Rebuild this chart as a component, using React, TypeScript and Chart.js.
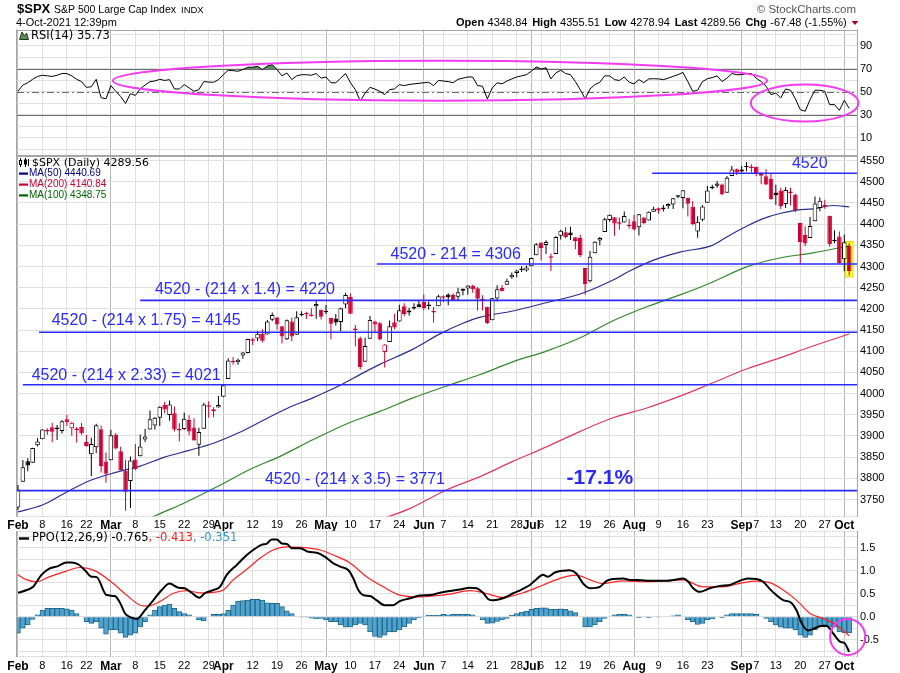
import React, { useEffect, useRef } from 'react';
import { Chart, registerables } from 'chart.js';

Chart.register(...registerables);

const SANS = "'Liberation Sans', Arial, Helvetica, sans-serif";
const VERD = "'DejaVu Sans', Verdana, sans-serif";

// ---------------- data ----------------
// trading-day index 0 = 1 Feb 2021 ... 170 = 4 Oct 2021
const tickDays = [0, 5, 10, 14, 19, 24, 29, 34, 39, 42, 48, 53, 58, 63, 68, 73, 78, 83, 87, 92, 97, 102, 105, 107, 111, 116, 121, 126, 131, 136, 141, 148, 151, 155, 160, 165, 169];
const tickLabels = ['Feb', '8', '16', '22', 'Mar', '8', '15', '22', '29', 'Apr', '12', '19', '26', 'May', '10', '17', '24', 'Jun', '7', '14', '21', '28', 'Jul', '6', '12', '19', '26', 'Aug', '9', '16', '23', 'Sep', '7', '13', '20', '27', 'Oct'];
const monthDays = [0, 19, 42, 63, 83, 105, 126, 148, 169];

const openP = [3731.17,3791.84,3840.27,3836.66,3878.30,3892.59,3910.49,3920.78,3916.40,3911.65,
3939.61,3918.50,3915.86,3921.16,3885.55,3857.07,3873.71,3915.80,3839.66,3842.51,
3903.64,3863.99,3818.53,3793.58,3844.39,3851.93,3891.99,3915.54,3924.52,3942.96,
3973.59,3949.57,3953.50,3913.14,3916.48,3937.60,3919.93,3879.34,3917.12,3969.31,
3963.34,3967.25,3992.78,4034.44,4075.57,4074.29,4089.95,4096.11,4124.71,4130.10,
4141.58,4139.76,4174.14,4179.80,4159.18,4128.42,4170.46,4138.78,4185.03,4188.25,
4185.14,4206.14,4198.10,4191.98,4179.04,4177.06,4169.14,4210.34,4228.29,4150.34,
4130.55,4074.99,4129.58,4169.92,4165.94,4098.45,4121.97,4168.61,4170.16,4205.94,
4191.59,4201.94,4210.77,4216.52,4206.82,4191.43,4206.05,4229.34,4233.81,4232.99,
4228.56,4242.90,4248.31,4255.28,4248.87,4220.37,4204.78,4173.40,4224.61,4249.27,
4256.97,4274.45,4284.90,4293.21,4290.65,4300.73,4326.60,4356.46,4351.01,4321.07,
4329.38,4372.41,4381.07,4380.11,4369.02,4367.43,4296.40,4265.11,4331.13,4361.27,
4381.20,4409.58,4416.38,4402.95,4403.59,4395.12,4406.86,4392.74,4415.95,4408.86,
4429.07,4437.77,4435.79,4442.18,4446.08,4464.84,4461.65,4462.12,4440.94,4382.44,
4410.56,4450.29,4484.40,4490.45,4493.75,4474.10,4513.76,4529.75,4528.80,4534.48,
4532.42,4535.38,4518.09,4513.02,4506.92,4474.81,4479.33,4447.49,4477.09,4469.74,
4402.95,4374.45,4367.43,4406.75,4438.04,4442.12,4419.54,4362.41,4370.67,4317.16,
4348.84];
const highP = [3784.32,3843.09,3847.51,3872.42,3894.56,3915.77,3918.35,3931.50,3925.99,3937.23,
3950.43,3933.61,3921.09,3930.41,3902.92,3895.98,3928.65,3925.02,3861.08,3914.50,
3906.41,3874.47,3843.67,3851.69,3881.06,3903.76,3917.35,3960.27,3944.99,3970.08,
3981.04,3983.87,3969.62,3930.12,3955.31,3949.13,3942.08,3919.54,3978.19,3981.83,
3968.01,3994.41,4020.63,4083.42,4086.23,4083.13,4098.19,4129.48,4131.76,4148.00,
4151.69,4173.49,4191.31,4180.81,4159.18,4175.02,4179.57,4194.17,4194.19,4193.35,
4201.53,4218.78,4198.10,4209.39,4179.04,4187.72,4202.70,4238.04,4236.39,4162.04,
4134.73,4131.58,4183.13,4171.92,4169.15,4116.93,4172.80,4188.72,4209.52,4213.42,
4202.61,4213.38,4218.36,4234.12,4217.37,4204.39,4233.45,4232.34,4236.74,4237.09,
4249.74,4248.38,4255.59,4257.16,4251.89,4232.29,4204.78,4226.24,4255.84,4256.60,
4271.28,4286.12,4292.14,4300.52,4302.43,4320.66,4355.43,4356.46,4361.88,4330.88,
4371.60,4386.68,4392.37,4393.68,4369.02,4375.09,4296.40,4336.84,4359.70,4369.87,
4415.18,4422.73,4416.38,4415.47,4429.97,4412.25,4422.18,4423.79,4416.17,4429.76,
4440.82,4439.39,4445.21,4449.44,4461.77,4468.37,4480.26,4462.12,4454.32,4418.61,
4444.35,4489.88,4492.81,4501.71,4495.90,4513.33,4537.36,4531.39,4537.11,4545.85,
4541.45,4535.38,4521.79,4529.90,4520.47,4492.99,4485.68,4486.87,4485.87,4471.52,
4402.95,4394.87,4416.75,4465.40,4463.12,4457.30,4419.54,4385.57,4382.55,4375.19,
4355.51];
const lowP = [3725.62,3791.84,3816.68,3836.66,3874.93,3892.59,3902.64,3884.94,3890.39,3905.78,
3923.85,3900.43,3884.86,3903.07,3874.71,3805.59,3859.60,3814.04,3789.54,3842.51,
3868.57,3818.86,3723.34,3730.19,3819.25,3851.93,3885.73,3915.54,3915.21,3923.54,
3953.44,3935.74,3910.86,3886.75,3914.16,3901.57,3889.07,3853.50,3917.12,3943.25,
3944.35,3966.98,3992.78,4034.44,4068.14,4068.31,4082.54,4095.51,4114.82,4124.43,
4120.87,4139.76,4170.75,4150.47,4118.38,4126.35,4123.69,4138.78,4182.36,4176.22,
4181.78,4176.81,4174.85,4188.03,4128.59,4160.94,4147.33,4201.64,4188.13,4111.53,
4056.88,4074.99,4129.58,4142.69,4125.99,4061.41,4121.97,4151.72,4170.16,4182.52,
4184.11,4197.78,4203.57,4197.59,4198.27,4167.93,4206.05,4215.66,4208.41,4218.74,
4220.34,4232.25,4234.07,4238.35,4195.99,4196.05,4164.40,4173.40,4217.27,4241.43,
4256.97,4271.16,4274.67,4287.04,4287.96,4300.73,4326.60,4314.37,4329.79,4289.37,
4329.38,4364.03,4366.92,4362.36,4340.70,4322.53,4233.13,4262.05,4331.13,4350.06,
4381.20,4405.45,4372.51,4387.01,4403.59,4389.65,4384.81,4373.00,4400.23,4408.86,
4429.07,4424.74,4430.03,4436.42,4435.96,4460.82,4437.66,4417.83,4397.59,4367.73,
4406.80,4450.29,4482.28,4485.66,4468.99,4474.10,4513.76,4515.80,4522.02,4524.66,
4521.94,4513.00,4493.95,4492.07,4457.66,4445.70,4435.46,4438.37,4443.80,4427.76,
4305.91,4347.96,4367.43,4406.75,4430.27,4436.19,4346.33,4355.08,4306.24,4288.52,
4278.94];
const closeP = [3773.86,3826.31,3830.17,3871.74,3886.83,3915.59,3911.23,3909.88,3916.38,3934.83,
3932.59,3931.33,3913.97,3906.71,3876.50,3881.37,3925.43,3829.34,3811.15,3901.82,
3870.29,3819.72,3768.47,3841.94,3821.35,3875.44,3898.81,3939.34,3943.34,3968.94,
3962.71,3974.12,3915.46,3913.10,3940.59,3910.52,3889.14,3909.52,3974.54,3971.09,
3958.55,3972.89,4019.87,4077.91,4073.94,4079.95,4097.17,4128.80,4127.99,4141.59,
4124.66,4170.42,4185.47,4163.26,4134.94,4173.42,4134.98,4180.17,4187.62,4186.72,
4183.18,4211.47,4181.17,4192.66,4164.66,4167.59,4201.62,4232.60,4188.43,4152.10,
4063.04,4112.50,4173.85,4163.29,4127.83,4115.68,4159.12,4155.86,4197.05,4188.13,
4195.99,4200.88,4204.11,4202.04,4208.12,4192.85,4229.89,4226.52,4227.26,4219.55,
4239.18,4247.44,4255.15,4246.59,4223.70,4221.86,4166.45,4224.79,4246.44,4241.84,
4266.49,4280.70,4290.61,4291.80,4297.50,4319.94,4352.34,4343.54,4358.13,4320.82,
4369.55,4384.63,4369.21,4374.30,4360.03,4327.16,4258.49,4323.06,4358.69,4367.48,
4411.79,4422.30,4401.46,4400.64,4419.15,4395.26,4387.16,4423.15,4402.66,4429.10,
4436.52,4432.35,4436.75,4447.70,4460.83,4468.00,4479.71,4448.08,4400.27,4405.80,
4441.67,4479.53,4486.23,4496.19,4470.00,4509.37,4528.79,4522.68,4524.09,4536.95,
4535.43,4520.03,4514.07,4493.28,4458.58,4468.73,4443.05,4480.70,4473.75,4432.99,
4357.73,4354.19,4395.64,4448.98,4455.48,4443.11,4352.63,4359.46,4307.54,4357.04,
4289.56];
const prevClose0 = 3714.24;

const ma50Days = [0, 5, 10, 15, 20, 25, 30, 35, 40, 45, 50, 55, 60.3, 65.8, 70.6, 74, 80.8, 86.3, 91, 94.4, 101.2, 108.2, 115, 121.7, 125.2, 130, 135.4, 142, 145.6, 149, 152.4, 155.8, 159.3, 162.6, 166.7, 170];
const ma50Vals = [3721, 3737, 3768, 3796, 3814, 3829, 3850, 3866, 3883, 3907, 3936, 3965, 3990, 4019, 4049, 4069, 4105, 4141, 4166, 4180, 4195, 4215, 4235, 4268, 4290, 4315, 4334, 4350, 4374, 4395, 4413, 4425, 4433, 4436, 4444, 4440.69];
const ma100Days = [25, 27.6, 33.7, 40.7, 47.4, 53.6, 60.3, 67.3, 74, 80.8, 87.7, 94.5, 101.2, 108.2, 115, 121.7, 128.6, 135.4, 142, 149, 155.8, 162.6, 170];
const ma100Vals = [3692, 3709, 3740, 3780, 3821, 3852, 3891, 3929, 3958, 3990, 4018, 4045, 4075, 4101, 4132, 4172, 4205, 4233, 4263, 4299, 4320, 4332, 4348.75];
const ma200Days = [72, 80, 83.6, 87.7, 94.5, 101.2, 108.2, 115, 121.7, 128.6, 135.4, 142, 149, 156, 162, 170];
const ma200Vals = [3695, 3728, 3749, 3773, 3804, 3840, 3875, 3911, 3943, 3966, 3994, 4025, 4058, 4085, 4110, 4140.84];

const rsi14 = [50.6,56,58,61,63.5,64.5,64,63.5,64.5,66,
66,64,61,59,54,54.5,61,45,44,55.5,
50.6,46,40,48.5,47,52.6,56,59,59.5,61,
60,60.7,52.6,52.6,56.4,53.5,50.6,52,59,58.6,
58.4,60.7,65,68.9,68.5,68,69.5,71.5,71.5,72.3,
69.4,72.5,73.8,69.4,64,66.5,60.7,64,65,65,
64.5,66,62,63,58,58,62,66,58,52,
42,49,54,52.5,50.6,47.7,52,52.6,56.4,55.5,
56.5,57,57.5,58,58.4,55.5,60,59.5,59,58,
61,62,63,63,55.5,55,44,53.5,58,57,
59.5,61.3,63,64,65,68,71.7,70,71,61.3,
66.5,68.9,66,65,59,52,44,52.6,56.4,58.4,
64,64,60.7,60,63,58.4,57,60.7,58,61.3,
61.5,61.3,60.7,62,63.6,65,67,59,50.6,51.5,
59,61.5,62.5,64,59,62,66,65,65,66,
66,62,59,55,47.7,49,44.8,52.6,51.5,44,
34.6,33.2,43.3,51.5,51.5,50.6,39,39,34,42.7,
35.73];

const ppoDays = [0,1.8,3.1,4.8,6.5,8.2,9.9,11,12.3,13.7,15,16.1,18.1,19.8,20.9,21.9,23.2,24.3,26,27.7,29.4,31,32.8,34.1,35.5,37.1,38.2,40,41.3,42.7,44.7,46.8,48.1,49.8,50.9,51.9,52.9,54,55,56,57.7,59.4,61.1,62.8,64.5,65.9,67.6,68.6,69.6,70.6,72,73.3,75,76.7,78.1,80.2,82.2,84.3,86.3,88.3,90.4,92.4,93.8,95.2,96.2,97.2,99.2,101.3,103,104.7,106,107.4,108.4,109.8,111.5,112.9,114.2,115.6,117,119,120.4,121.7,123.8,125.2,126.5,128.6,130.6,132.6,134.7,136,137.1,138.1,139.5,141.5,143.6,145.6,147.6,149.3,151,152.4,153.8,155.1,156.5,158.2,159.2,160.3,161.6,163,164.3,165.4,166.7,168.1,169.1,170];
const ppoVals = [0.52,0.58,0.65,0.91,1.05,1.10,1.18,1.18,1.14,1.01,0.87,0.86,0.47,0.45,0.30,0.07,-0.02,-0.05,0.145,0.36,0.58,0.72,0.63,0.62,0.52,0.41,0.51,0.58,0.65,0.91,1.12,1.34,1.45,1.56,1.59,1.68,1.68,1.59,1.58,1.49,1.49,1.41,1.39,1.30,1.16,1.09,1.01,0.83,0.58,0.47,0.45,0.36,0.25,0.25,0.34,0.40,0.46,0.47,0.52,0.56,0.59,0.63,0.62,0.51,0.38,0.355,0.40,0.51,0.59,0.69,0.81,0.91,0.87,0.96,1.00,1.01,0.94,0.72,0.62,0.65,0.78,0.82,0.83,0.80,0.80,0.78,0.78,0.78,0.81,0.83,0.76,0.62,0.54,0.62,0.67,0.69,0.78,0.83,0.82,0.76,0.60,0.47,0.36,0.30,0.145,-0.145,-0.30,-0.25,-0.20,-0.20,-0.36,-0.54,-0.58,-0.765];
const signalDays = [0,1.8,3.8,6.5,9.9,12.6,14.3,16.1,19.5,22.2,25,26.6,29,31.8,34.5,37.2,40,42,44,46.8,49.5,52.2,55,57.7,61.8,64.5,67.9,71.3,74.7,78.1,82.2,84.9,88.3,92.4,95.2,99.2,103.3,107.4,111.5,114.2,117,119.7,123.8,127.9,132,136,140.1,144.2,148.3,151,153.8,156.5,159.2,162,164.7,167.4,170];
const signalVals = [0.91,0.80,0.76,0.87,0.99,1.07,1.05,0.98,0.72,0.47,0.25,0.23,0.33,0.51,0.565,0.52,0.53,0.58,0.80,1.03,1.27,1.45,1.52,1.51,1.45,1.34,1.17,0.87,0.65,0.47,0.43,0.45,0.49,0.565,0.52,0.42,0.52,0.69,0.855,0.905,0.80,0.72,0.78,0.76,0.775,0.80,0.65,0.65,0.74,0.775,0.74,0.58,0.36,0.07,-0.04,-0.18,-0.413];
const histVals = [-0.36,-0.25,-0.18,-0.06,0.04,0.145,0.18,0.18,0.18,0.18,
0.17,0.145,0.07,0,-0.11,-0.145,-0.11,-0.25,-0.38,-0.29,
-0.29,-0.36,-0.45,-0.40,-0.36,-0.22,-0.11,0.04,0.145,0.22,
0.25,0.275,0.18,0.11,0.07,0.04,0,-0.07,-0.09,0,
0.05,0.05,0.07,0.145,0.25,0.34,0.35,0.36,0.38,0.38,
0.36,0.30,0.29,0.29,0.22,0.13,0.07,0,-0.01,-0.01,
-0.03,-0.05,-0.04,-0.07,-0.11,-0.11,-0.18,-0.23,-0.22,-0.18,
-0.145,-0.18,-0.33,-0.43,-0.45,-0.40,-0.33,-0.33,-0.29,-0.22,
-0.145,-0.07,-0.02,0.015,0.03,0.03,0.03,0.05,0.04,0.05,
0.05,0.055,0.05,0.04,0,-0.07,-0.145,-0.14,-0.10,-0.07,
-0.04,0.03,0.07,0.10,0.12,0.16,0.18,0.195,0.195,0.16,
0.16,0.17,0.16,0.13,0.09,0,-0.22,-0.22,-0.18,-0.11,
-0.04,0,0.04,0.05,0.05,0.04,0,-0.02,0,-0.02,
0,-0.01,0,0,0.02,0.04,0,-0.07,-0.11,-0.17,
-0.145,-0.07,-0.05,0,-0.02,0.04,0.07,0.07,0.07,0.07,
0.07,0.05,0,-0.04,-0.11,-0.18,-0.23,-0.25,-0.25,-0.29,
-0.40,-0.45,-0.40,-0.29,-0.22,-0.18,-0.23,-0.23,-0.33,-0.35,
-0.351];

// target levels drawn on the price panel
const levelVals = [4520, 4306, 4220, 4145, 4021, 3771];
const levelTexts = ['4520', '4520 - 214 = 4306', '4520 - (214 x 1.4) = 4220', '4520 - (214 x 1.75) = 4145', '4520 - (214 x 2.33) = 4021', '4520 - (214 x 3.5) = 3771'];

// ---------------- annotation placement (data space) ----------------
const ANNOT = {
  levelFrom: [129.7, 73.4, 25, 4.3, 1, -0.2],
  labelDay: [158.3, 76.2, 28.0, 6.9, 2.8, 50.5],
  labelPrice: [4532.5, 4317, 4235.4, 4162.3, 4032.6, 3787.5],
  pctText: '-17.1%', pctDay: 112.2, pctPrice: 3787.5,
  rsiEllipses: [
    { cx: 86.3, cy: 59.8, rx: 66.9, ry: 17.4 },
    { cx: 160.9, cy: 40.4, rx: 11.0, ry: 16.1 },
  ],
  ppoCircle: { cx: 169.7, cy: -0.44, rx: 3.6, ry: 0.39 },
  highlightDay: 170,
};

// ---------------- styling ----------------
const X_MIN = -0.2, X_MAX = 171.6;
const PLOT_LEFT = 17, AXIS_W = 43;
const UP = '#000000', DOWN = '#cc0033';
const BLUE = '#2a2aff';
const MAGENTA = '#f23cf2';
const GRID = '#e0e0e0', GRID_MONTH = '#b8b8b8', FRAME = '#a6a6a6';

const pairs = (xs: number[], ys: number[]) => xs.map((x, i) => ({ x, y: ys[i] }));
const isMonth = (v: any) => monthDays.indexOf(v) >= 0;
const noPad = (s: any) => { s.paddingTop = 0; s.paddingBottom = 0; s.paddingLeft = 0; s.paddingRight = 0; };

function xScale(showLabels: boolean, height: number) {
  return {
    type: 'linear', min: X_MIN, max: X_MAX, offset: false,
    afterBuildTicks: (s: any) => { s.ticks = tickDays.map((v) => ({ value: v, major: isMonth(v) })); },
    afterFit: (s: any) => { s.height = height; noPad(s); },
    grid: { color: (c: any) => (c.tick && isMonth(c.tick.value) ? GRID_MONTH : GRID), drawTicks: false, offset: false },
    border: { display: false },
    ticks: {
      display: showLabels, autoSkip: false, maxRotation: 0, minRotation: 0, padding: 2, color: '#000',
      callback: (v: any) => { const i = tickDays.indexOf(v); return i >= 0 ? tickLabels[i] : ''; },
      font: (c: any) => {
        const m = c.tick && isMonth(c.tick.value);
        return { family: SANS, size: m ? 12 : 11, weight: m ? 'bold' : 'normal' };
      },
    },
  };
}

function yScale(min: number, max: number, ticks: number[], label: (v: number) => string) {
  return {
    type: 'linear', position: 'right', min, max,
    afterBuildTicks: (s: any) => { s.ticks = ticks.map((v) => ({ value: v })); },
    afterFit: (s: any) => { s.width = AXIS_W; noPad(s); },
    grid: { color: GRID, drawTicks: false },
    border: { display: false },
    ticks: { autoSkip: false, padding: 3, color: '#000', font: { family: SANS, size: 11 }, callback: (v: any) => label(v) },
  };
}

function baseOptions(top: number, xs: any, ys: any) {
  return {
    responsive: false, animation: false, events: [],
    layout: { padding: { left: PLOT_LEFT, right: 0, top, bottom: 0 }, autoPadding: false },
    plugins: { legend: { display: false }, tooltip: { enabled: false }, title: { display: false } },
    scales: { x: xs, y: ys },
  };
}

function frame(ctx: any, a: any, top: string, bottom: string) {
  ctx.save();
  ctx.lineWidth = 1;
  ctx.strokeStyle = FRAME;
  const L = Math.round(a.left) - 0.5, R = Math.round(a.right) + 0.5;
  const T = Math.round(a.top) + 0.5, B = Math.round(a.bottom) - 0.5;
  ctx.beginPath(); ctx.moveTo(L, a.top); ctx.lineTo(L, a.bottom); ctx.moveTo(R, a.top); ctx.lineTo(R, a.bottom); ctx.stroke();
  const hline = (y: number, style: string) => {
    if (style === 'none') return;
    ctx.setLineDash(style === 'dot' ? [1, 2] : []);
    ctx.beginPath(); ctx.moveTo(L, y); ctx.lineTo(R, y); ctx.stroke();
  };
  hline(T, top); hline(B, bottom);
  ctx.restore();
}

function ellipseAt(chart: any, e: any) {
  const { ctx, scales: { x, y } } = chart;
  const cx = x.getPixelForValue(e.cx), cy = y.getPixelForValue(e.cy);
  const rx = Math.abs(x.getPixelForValue(e.cx + e.rx) - cx);
  const ry = Math.abs(y.getPixelForValue(e.cy + e.ry) - cy);
  ctx.save();
  ctx.strokeStyle = MAGENTA; ctx.lineWidth = 2;
  ctx.beginPath(); ctx.ellipse(cx, cy, rx, ry, 0, 0, Math.PI * 2); ctx.stroke();
  ctx.restore();
}

// ---------------- RSI panel (with page header) ----------------
function rsiConfig(): any {
  const plugin = {
    id: 'rsiDeco',
    beforeDatasetsDraw(chart: any) {
      const { ctx, chartArea: a, scales: { y } } = chart;
      ctx.save();
      ctx.strokeStyle = '#6a6a6a'; ctx.lineWidth = 1;
      [70, 30].forEach((v) => {
        const py = Math.round(y.getPixelForValue(v)) + 0.5;
        ctx.beginPath(); ctx.moveTo(a.left, py); ctx.lineTo(a.right, py); ctx.stroke();
      });
      ctx.setLineDash([7, 3, 2, 3]);
      const p50 = Math.round(y.getPixelForValue(50)) + 0.5;
      ctx.beginPath(); ctx.moveTo(a.left, p50); ctx.lineTo(a.right, p50); ctx.stroke();
      ctx.restore();
    },
    afterDraw(chart: any) {
      const { ctx, chartArea: a } = chart;
      frame(ctx, a, 'solid', 'solid');
      ANNOT.rsiEllipses.forEach((e) => ellipseAt(chart, e));
      ctx.save();
      ctx.textBaseline = 'alphabetic'; ctx.textAlign = 'left'; ctx.fillStyle = '#000';
      ctx.font = `bold 13px ${SANS}`; ctx.fillText('$SPX', 17, 13);
      ctx.font = `10.5px ${SANS}`; ctx.fillText('S&P 500 Large Cap Index', 54, 13);
      const w = ctx.measureText('S&P 500 Large Cap Index').width;
      ctx.font = `9.5px ${SANS}`; ctx.fillText('INDX', 54 + w + 5, 13);
      ctx.font = `11px ${SANS}`; ctx.fillText('4-Oct-2021 12:39pm', 16, 26);
      ctx.fillStyle = '#555'; ctx.font = `11.5px ${SANS}`; ctx.textAlign = 'right';
      ctx.fillText('\u00A9 StockCharts.com', 856, 13);
      ctx.textAlign = 'left'; ctx.fillStyle = '#000';
      const parts: [string, boolean][] = [['Open', true], ['4348.84', false], ['High', true], ['4355.51', false], ['Low', true], ['4278.94', false], ['Last', true], ['4289.56', false], ['Chg', true], ['-67.48 (-1.55%)', false]];
      let px = 456;
      parts.forEach(([t, b]) => {
        ctx.font = `${b ? 'bold ' : ''}11px ${SANS}`;
        ctx.fillText(t, px, 26);
        px += ctx.measureText(t).width + (b ? 3.5 : 4.8);
      });
      ctx.fillStyle = '#a0002a';
      ctx.beginPath(); ctx.moveTo(px, 21); ctx.lineTo(px + 7, 21); ctx.lineTo(px + 3.5, 25); ctx.closePath(); ctx.fill();
      // legend
      ctx.fillStyle = '#5b8c5b'; ctx.strokeStyle = '#1e3a1e'; ctx.lineWidth = 1;
      ctx.beginPath(); ctx.moveTo(19.5, 39.5); ctx.lineTo(22, 32); ctx.lineTo(24.5, 36); ctx.lineTo(26.5, 33); ctx.lineTo(28.5, 39.5); ctx.closePath(); ctx.fill(); ctx.stroke();
      ctx.fillStyle = '#000'; ctx.font = `11.5px ${VERD}`; ctx.textBaseline = 'middle';
      ctx.fillText('RSI(14) 35.73', 31, 36);
      ctx.restore();
    },
  };
  return {
    type: 'line',
    data: {
      datasets: [{
        type: 'line', data: rsi14.map((v, i) => ({ x: i, y: v })),
        borderColor: '#000', borderWidth: 1, pointRadius: 0, tension: 0,
        fill: { target: { value: 70 }, above: '#5e8f5e', below: 'rgba(0,0,0,0)' },
      }],
    },
    options: baseOptions(29.5, xScale(false, 0), yScale(-5.7, 104.3, [0, 10, 20, 30, 40, 50, 60, 70, 80, 90, 100], (v) => ([10, 30, 50, 70, 90].indexOf(v) >= 0 ? String(v) : ''))),
    plugins: [plugin],
  };
}

// ---------------- price panel ----------------
function priceConfig(): any {
  const ink = closeP.map((c, i) => (c >= (i > 0 ? closeP[i - 1] : prevClose0) ? UP : DOWN));
  const filled = closeP.map((c, i) => c < openP[i]);
  const plugin = {
    id: 'priceDeco',
    beforeDatasetsDraw(chart: any) {
      const { ctx, scales: { x, y } } = chart;
      const d = ANNOT.highlightDay;
      const x0 = x.getPixelForValue(d - 0.78), x1 = x.getPixelForValue(d + 0.78);
      const y0 = y.getPixelForValue(highP[d]) - 1.5, y1 = y.getPixelForValue(lowP[d]) + 1.5;
      ctx.save();
      ctx.fillStyle = '#ffff3c'; ctx.fillRect(x0, y0, x1 - x0, y1 - y0);
      ctx.strokeStyle = '#e2d800'; ctx.lineWidth = 1; ctx.strokeRect(x0, y0, x1 - x0, y1 - y0);
      ctx.restore();
    },
    afterDatasetsDraw(chart: any) {
      const { ctx, scales: { x, y } } = chart;
      ctx.save();
      ctx.fillStyle = BLUE; ctx.textBaseline = 'alphabetic'; ctx.textAlign = 'left';
      ctx.font = `16px ${SANS}`;
      levelTexts.forEach((t, i) => {
        ctx.fillText(t, x.getPixelForValue(ANNOT.labelDay[i]), y.getPixelForValue(ANNOT.labelPrice[i]));
      });
      ctx.font = `bold 21px ${SANS}`;
      ctx.fillText(ANNOT.pctText, x.getPixelForValue(ANNOT.pctDay), y.getPixelForValue(ANNOT.pctPrice));
      ctx.restore();
    },
    afterDraw(chart: any) {
      const { ctx, chartArea: a } = chart;
      frame(ctx, a, 'solid', 'dot');
      ctx.save();
      // legend icon (candles)
      ctx.strokeStyle = '#000'; ctx.fillStyle = '#000'; ctx.lineWidth = 1;
      ctx.beginPath(); ctx.moveTo(20.5, 2); ctx.lineTo(20.5, 11); ctx.moveTo(25.5, 2); ctx.lineTo(25.5, 11); ctx.stroke();
      ctx.fillStyle = '#fff'; ctx.fillRect(19, 4, 3, 5); ctx.strokeRect(19.5, 4.5, 2, 4);
      ctx.fillStyle = '#000'; ctx.fillRect(24, 3.5, 3, 5);
      ctx.beginPath(); ctx.moveTo(28.5, 3); ctx.lineTo(28.5, 10); ctx.stroke();
      ctx.textBaseline = 'middle'; ctx.textAlign = 'left';
      ctx.font = `11px ${VERD}`; ctx.fillText('$SPX (Daily) 4289.56', 32, 7);
      const rows: [string, string, number][] = [['MA(50) 4440.69', '#000080', 17.5], ['MA(200) 4140.84', '#cc0033', 28.5], ['MA(100) 4348.75', '#006400', 39.3]];
      rows.forEach(([t, c, yy]) => {
        ctx.fillStyle = c; ctx.fillRect(19, yy - 1, 9, 2.2);
        ctx.font = `10px ${SANS}`; ctx.fillText(t, 29, yy);
      });
      ctx.restore();
    },
  };
  const lineDs = (xs: number[], ys: number[], color: string) => ({
    type: 'line', data: pairs(xs, ys), borderColor: color, borderWidth: 1.2, pointRadius: 0,
    cubicInterpolationMode: 'monotone', fill: false, order: 3,
  });
  return {
    type: 'line',
    data: {
      datasets: [
        ...levelVals.map((v, i) => ({
          type: 'line', data: [{ x: ANNOT.levelFrom[i], y: v }, { x: X_MAX, y: v }],
          borderColor: BLUE, borderWidth: 1.6, pointRadius: 0, fill: false, order: -1,
        })),
        {
          type: 'bar', data: closeP.map((_, i) => ({ x: i, y: [lowP[i], highP[i]] })),
          backgroundColor: ink, borderWidth: 0, barThickness: 1, grouped: false, inflateAmount: 0, order: 1,
        },
        {
          type: 'bar', data: closeP.map((c, i) => ({ x: i, y: [openP[i], c] })),
          backgroundColor: closeP.map((_, i) => (filled[i] ? ink[i] : '#ffffff')),
          borderColor: ink, borderWidth: 1, borderSkipped: false, barThickness: 4.6, grouped: false,
          inflateAmount: 0, minBarLength: 1.5, order: 0,
        },
        lineDs(ma50Days, ma50Vals, '#2d2d94'),
        lineDs(ma200Days, ma200Vals, '#e0385a'),
        lineDs(ma100Days, ma100Vals, '#2f8a2a'),
      ],
    },
    options: baseOptions(0, xScale(true, 14.5), yScale(3710, 4560.8, [3750, 3800, 3850, 3900, 3950, 4000, 4050, 4100, 4150, 4200, 4250, 4300, 4350, 4400, 4450, 4500, 4550], (v) => String(v))),
    plugins: [plugin],
  };
}

// ---------------- PPO panel ----------------
function ppoConfig(): any {
  const plugin = {
    id: 'ppoDeco',
    afterDraw(chart: any) {
      const { ctx, chartArea: a } = chart;
      frame(ctx, a, 'dot', 'dot');
      ellipseAt(chart, ANNOT.ppoCircle);
      ctx.save();
      ctx.fillStyle = '#000'; ctx.fillRect(19, 6.3, 10, 2.4);
      ctx.textBaseline = 'middle'; ctx.textAlign = 'left'; ctx.font = `11.5px ${VERD}`;
      let px = 32;
      const seg: [string, string][] = [['PPO(12,26,9) -0.765', '#000'], [', -0.413', '#ff1a1a'], [', -0.351', '#3399cc']];
      seg.forEach(([t, c]) => { ctx.fillStyle = c; ctx.fillText(t, px, 7.5); px += ctx.measureText(t).width; });
      ctx.restore();
    },
  };
  return {
    type: 'line',
    data: {
      datasets: [
        {
          type: 'line', data: pairs(ppoDays, ppoVals), borderColor: '#000', borderWidth: 2, pointRadius: 0,
          cubicInterpolationMode: 'monotone', fill: false, order: 0,
        },
        {
          type: 'line', data: pairs(signalDays, signalVals), borderColor: '#ff2020', borderWidth: 1.2, pointRadius: 0,
          cubicInterpolationMode: 'monotone', fill: false, order: 1,
        },
        {
          type: 'bar', data: histVals.map((v, i) => ({ x: i, y: v })),
          backgroundColor: '#52a2cf', borderColor: '#1f6a8a', borderWidth: 1, grouped: false,
          barPercentage: 1, categoryPercentage: 1, order: 2,
        },
      ],
    },
    options: baseOptions(0, xScale(true, 16), yScale(-0.876, 1.863, [-0.75, -0.5, -0.25, 0, 0.25, 0.5, 0.75, 1, 1.25, 1.5, 1.75], (v) => (Math.abs(v * 2 - Math.round(v * 2)) < 1e-6 ? v.toFixed(1) : ''))),
    plugins: [plugin],
  };
}

export default function App() {
  const r1 = useRef<HTMLCanvasElement>(null);
  const r2 = useRef<HTMLCanvasElement>(null);
  const r3 = useRef<HTMLCanvasElement>(null);
  useEffect(() => {
    const charts = [
      new Chart(r1.current as any, rsiConfig()),
      new Chart(r2.current as any, priceConfig()),
      new Chart(r3.current as any, ppoConfig()),
    ];
    return () => charts.forEach((c) => c.destroy());
  }, []);
  return (
    <div style={{ position: 'absolute', left: 0, top: 0, width: 900, height: 673, background: '#fff', overflow: 'hidden' }}>
      <canvas ref={r1} width={900} height={156} style={{ position: 'absolute', left: 0, top: 0, width: 900, height: 156 }} />
      <canvas ref={r2} width={900} height={375} style={{ position: 'absolute', left: 0, top: 156, width: 900, height: 375 }} />
      <canvas ref={r3} width={900} height={142} style={{ position: 'absolute', left: 0, top: 531, width: 900, height: 142 }} />
    </div>
  );
}
